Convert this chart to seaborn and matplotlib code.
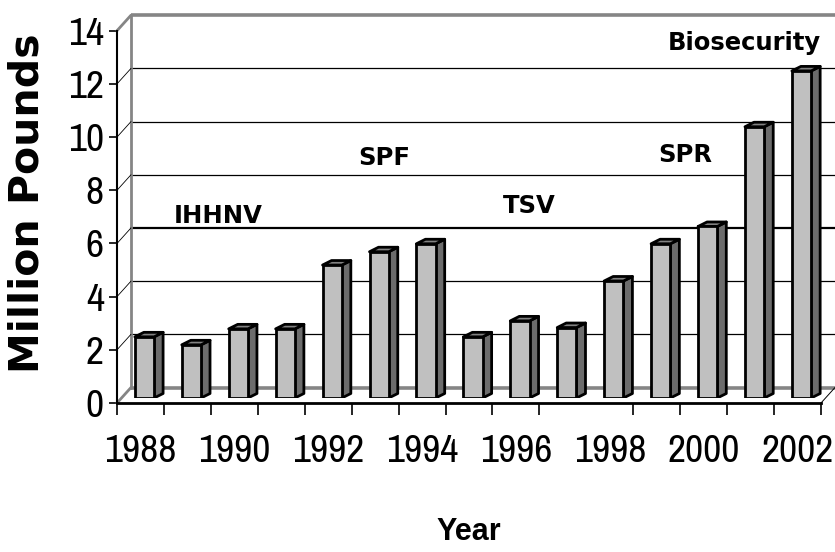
import matplotlib
matplotlib.use("Agg")
import matplotlib.pyplot as plt
from matplotlib import font_manager
from matplotlib.patches import Polygon
import seaborn as sns
import pandas as pd

# ---- data ----
years = [1988, 1989, 1990, 1991, 1992, 1993, 1994, 1995, 1996, 1997, 1998, 1999, 2000, 2001, 2002]
values = [2.3, 2.0, 2.6, 2.6, 5.0, 5.5, 5.8, 2.3, 2.9, 2.65, 4.4, 5.8, 6.45, 10.2, 12.3]
y_ticks = [0, 2, 4, 6, 8, 10, 12, 14]
x_tick_labels = ["1988", "1990", "1992", "1994", "1996", "1998", "2000", "2002"]
annot_text = ["IHHNV", "SPF", "TSV", "SPR", "Biosecurity"]
annot_x = [1.65, 5.2, 8.28, 11.6, 12.86]
annot_y = [6.78, 8.95, 7.13, 9.07, 13.29]

sns.set_theme(style="white")
plt.rcParams['font.family'] = ['DejaVu Sans']
for k in ('text.color', 'axes.labelcolor', 'xtick.color', 'ytick.color'):
    plt.rcParams[k] = 'black'

# look for a condensed / narrow face for the tick labels
tick_font = None
tick_stretch = 'normal'
for f in font_manager.fontManager.ttflist:
    nm = f.name.lower()
    if 'narrow' in nm or 'condensed' in nm:
        tick_font = f.name
        break
if tick_font is None:
    for f in font_manager.fontManager.ttflist:
        st = str(f.stretch).lower()
        if 'condensed' in st and f.name in ('DejaVu Sans', 'Roboto', 'Open Sans', 'Noto Sans'):
            tick_font = f.name
            tick_stretch = 'condensed'
            break
if tick_font is None:
    tick_font = 'Liberation Sans'
    tick_size = 24
    xpad = 22
else:
    tick_size = 28.5
    xpad = 22

W, H = 835, 552
fig = plt.figure(figsize=(W / 100, H / 100), dpi=100)
fig.patch.set_facecolor('white')

def frac(x0, y_bottom_px, x1, y_top_px):
    return [x0 / W, (H - y_bottom_px) / H, (x1 - x0) / W, (y_bottom_px - y_top_px) / H]

front = [117, 403, 821, 30.7]
px_per_cat = (front[2] - front[0]) / 15
px_per_val = (front[1] - front[3]) / 14
wall_dx, wall_dy = 14, 15.5
bar_dx, bar_dy = 4, 5

ax_back = fig.add_axes(frac(front[0] + wall_dx, front[1] - wall_dy, front[2] + wall_dx, front[3] - wall_dy), zorder=0)
ax_mid = fig.add_axes(frac(front[0] + bar_dx, front[1] - bar_dy, front[2] + bar_dx, front[3] - bar_dy), zorder=2)
ax = fig.add_axes(frac(*front), zorder=1)

for a in (ax_back, ax_mid, ax):
    a.set_xlim(-0.5, 14.5)
    a.set_ylim(0, 14)
    a.patch.set_alpha(0)

# back wall
ax_back.axis('off')
for v in y_ticks[1:-1]:
    ax_back.plot([-0.5, 14.5], [v, v], color='black', lw=1.6 if v == 6 else 0.9, clip_on=False)
ax_back.plot([-0.5, 14.5], [14, 14], color='#858585', lw=2.6, clip_on=False, solid_capstyle='butt')
ax_back.plot([-0.5, 14.5], [0, 0], color='#858585', lw=2.6, clip_on=False, solid_capstyle='butt')
ax_back.plot([-0.5, -0.5], [0, 14], color='#858585', lw=2.0, clip_on=False)

# bars
df = pd.DataFrame({"Year": [str(y) for y in years], "Million": values})
sns.barplot(data=df, x="Year", y="Million", ax=ax_mid, color="#c0c0c0", saturation=1,
            edgecolor="black", linewidth=2.0, width=0.41, zorder=3)
ax_mid.set_xlim(-0.5, 14.5)
ax_mid.set_ylim(0, 14)
ax_mid.axis('off')
ddx = 9 / px_per_cat
ddy = 4.5 / px_per_val
for p in list(ax_mid.patches):
    xl = p.get_x()
    xr = xl + p.get_width()
    h = p.get_height()
    side = Polygon([(xr, 0), (xr + ddx, ddy), (xr + ddx, h + ddy), (xr, h)], closed=True,
                   facecolor='#6c6c6c', edgecolor='black', lw=2.0, zorder=2, joinstyle='round')
    top = Polygon([(xl, h), (xl + ddx, h + ddy), (xr + ddx, h + ddy), (xr, h)], closed=True,
                  facecolor='#828282', edgecolor='black', lw=2.0, zorder=2, joinstyle='round')
    ax_mid.add_patch(side)
    ax_mid.add_patch(top)

# front axes
for s in ('top', 'right'):
    ax.spines[s].set_visible(False)
ax.spines['left'].set_color('black')
ax.spines['left'].set_linewidth(1.5)
ax.spines['bottom'].set_color('black')
ax.spines['bottom'].set_linewidth(2.0)
ax.set_yticks(y_ticks)
ax.set_yticklabels([str(v) for v in y_ticks])
ax.tick_params(axis='y', direction='out', length=5.5, width=1.2, color='black', pad=4,
               labelsize=tick_size, left=True, labelcolor='black')
ax.set_xticks(range(0, 15, 2))
ax.set_xticklabels(x_tick_labels)
ax.set_xticks([b - 0.5 for b in range(16) if b != 10], minor=True)
ax.tick_params(axis='x', which='major', length=0, pad=xpad, labelsize=tick_size, bottom=True,
               labelcolor='black')
ax.tick_params(axis='x', which='minor', direction='out', length=8.6, width=1.2, color='black', bottom=True)
for lab in ax.get_xticklabels() + ax.get_yticklabels():
    lab.set_fontfamily(tick_font)
    lab.set_fontstretch(tick_stretch)
ax.grid(False)

# side wall / corner connectors
sdx = wall_dx / px_per_cat
sdy = wall_dy / px_per_val
for v in y_ticks[1:-1]:
    ax.plot([-0.5, -0.5 + sdx], [v, v + sdy], color='black', lw=0.6, clip_on=False)
ax.plot([-0.5, -0.5 + sdx], [14, 14 + sdy], color='#858585', lw=2.0, clip_on=False)
ax.plot([-0.5, -0.5 + sdx], [0, sdy], color='#858585', lw=2.0, clip_on=False)
ax.plot([14.5, 14.5 + sdx], [0, sdy], color='black', lw=0.7, clip_on=False)

# annotations
for t, x, y in zip(annot_text, annot_x, annot_y):
    ax.text(x, y, t, ha='center', va='baseline', fontsize=17.5, fontweight='bold',
            family='DejaVu Sans', color='black', zorder=5)

fig.text(28 / W, 1 - 203 / H, "Million Pounds", rotation=90, ha='center', va='center',
         fontsize=29.5, fontweight='bold', family='DejaVu Sans', color='black')
fig.text(469 / W, (H - 540) / H, "Year", ha='center', va='baseline',
         fontsize=22, fontweight='bold', family='Liberation Sans', color='black')

fig.savefig("out.png", dpi=100, facecolor='white')
